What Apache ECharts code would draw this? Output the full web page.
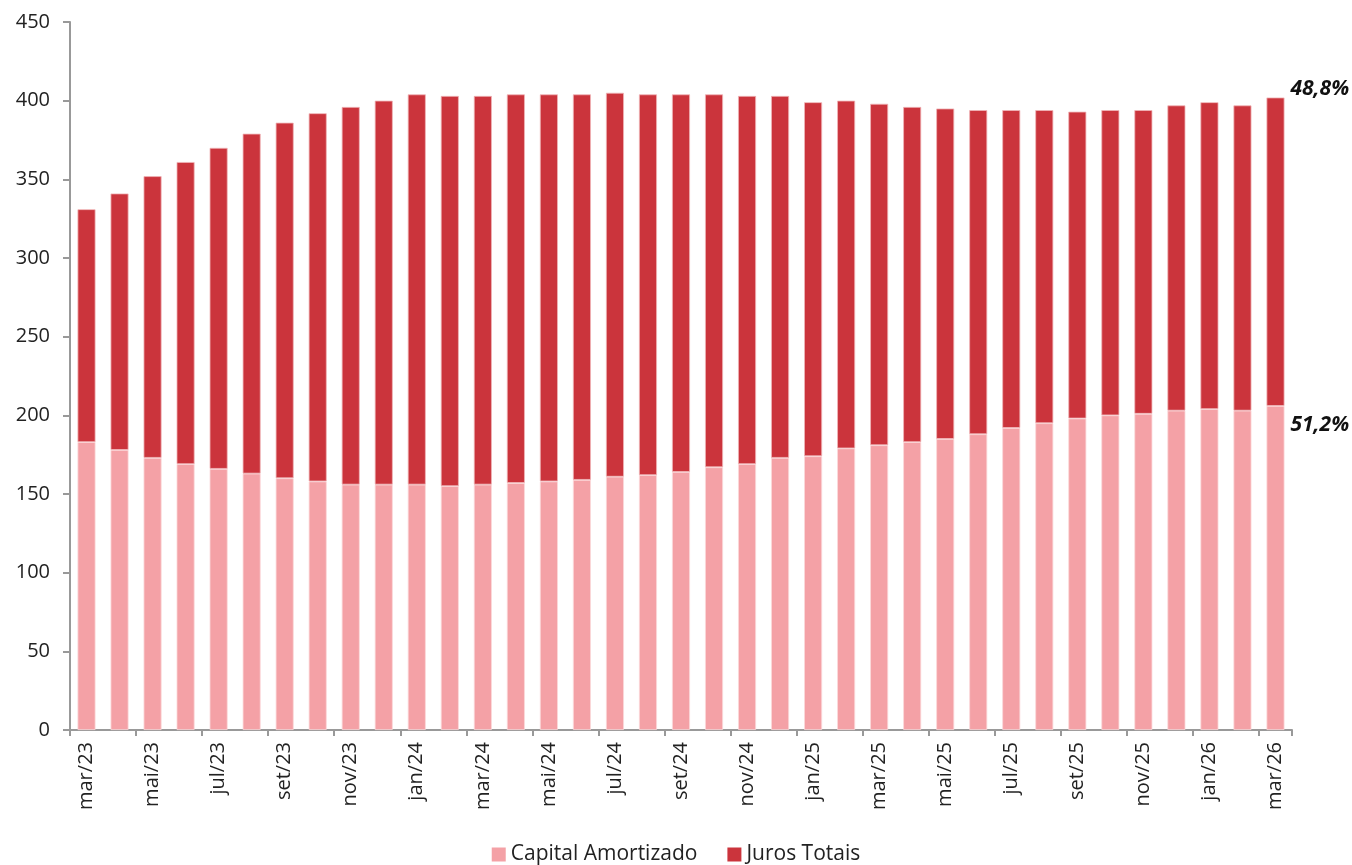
<!DOCTYPE html>
<html>
<head>
<meta charset="utf-8">
<script src="https://cdn.jsdelivr.net/npm/echarts@6/dist/echarts.min.js"></script>
<style>
  html, body { margin: 0; padding: 0; background: #fff; }
  #chart { width: 1352px; height: 865px; }
</style>
</head>
<body>
<div id="chart"></div>
<script>
const months = [
  "mar/23", "abr/23", "mai/23", "jun/23", "jul/23", "ago/23", "set/23", "out/23", "nov/23", "dez/23",
  "jan/24", "fev/24", "mar/24", "abr/24", "mai/24", "jun/24", "jul/24", "ago/24", "set/24", "out/24",
  "nov/24", "dez/24", "jan/25", "fev/25", "mar/25", "abr/25", "mai/25", "jun/25", "jul/25", "ago/25",
  "set/25", "out/25", "nov/25", "dez/25", "jan/26", "fev/26", "mar/26",
];

const capitalAmortizado = [
  183, 178, 173, 169, 166, 163, 160, 158, 156, 156,
  156, 155, 156, 157, 158, 159, 161, 162, 164, 167,
  169, 173, 174, 179, 181, 183, 185, 188, 192, 195,
  198, 200, 201, 203, 204, 203, 206,
];

const jurosTotais = [
  148, 163, 179, 192, 204, 216, 226, 234, 240, 244,
  248, 248, 247, 247, 246, 245, 244, 242, 240, 237,
  234, 230, 225, 221, 217, 213, 210, 206, 202, 199,
  195, 194, 193, 194, 195, 194, 196,
];

const lastLabels = { capital: "51,2%", juros: "48,8%" };

const chart = echarts.init(document.getElementById("chart"));

const fontFamily = "'Open Sans', 'Noto Sans', sans-serif";
const labelStyle = {
  fontFamily,
  fontSize: 21,
  fontWeight: "bold",
  fontStyle: "italic",
  color: "#111",
  align: "left",
  verticalAlign: "middle",
};

function withLastLabel(values, text, dy) {
  return values.map((v, i) => {
    if (i !== values.length - 1) return v;
    return {
      value: v,
      label: {
        show: true,
        position: ["100%", 0],
        offset: [6, dy],
        formatter: text,
        ...labelStyle,
      },
    };
  });
}

chart.setOption({
  animation: false,
  textStyle: { fontFamily },
  grid: { left: 70, right: 60, top: 22, bottom: 135, containLabel: false },
  legend: {
    bottom: -5,
    left: "center",
    itemWidth: 14,
    itemHeight: 14,
    itemGap: 30,
    icon: "rect",
    itemStyle: { borderWidth: 0 },
    textStyle: { fontSize: 21, color: "#222", fontFamily },
    data: ["Capital Amortizado", "Juros Totais"],
  },
  xAxis: {
    type: "category",
    data: months,
    axisLine: { lineStyle: { color: "#999", width: 2 } },
    axisTick: { show: true, interval: 1, length: 6, lineStyle: { color: "#999", width: 2 } },
    axisLabel: {
      interval: 1,
      rotate: 90,
      fontSize: 20,
      color: "#222",
      margin: 12,
      fontFamily,
    },
  },
  yAxis: {
    type: "value",
    min: 0,
    max: 450,
    interval: 50,
    splitLine: { show: false },
    axisLine: { show: true, lineStyle: { color: "#999", width: 2 } },
    axisTick: { show: true, length: 7, lineStyle: { color: "#999", width: 2 } },
    axisLabel: { fontSize: 20, color: "#222", margin: 20, fontFamily },
  },
  series: [
    {
      name: "Capital Amortizado",
      type: "bar",
      stack: "total",
      barWidth: 18,
      itemStyle: { color: "#f4a1a6", borderColor: "#fbd9db", borderWidth: 0.8 },
      data: withLastLabel(capitalAmortizado, lastLabels.capital, 19),
    },
    {
      name: "Juros Totais",
      type: "bar",
      stack: "total",
      barWidth: 18,
      itemStyle: { color: "#cb343c", borderColor: "#f0b5b8", borderWidth: 0.8 },
      data: withLastLabel(jurosTotais, lastLabels.juros, -9),
    },
  ],
});
</script>
</body>
</html>
